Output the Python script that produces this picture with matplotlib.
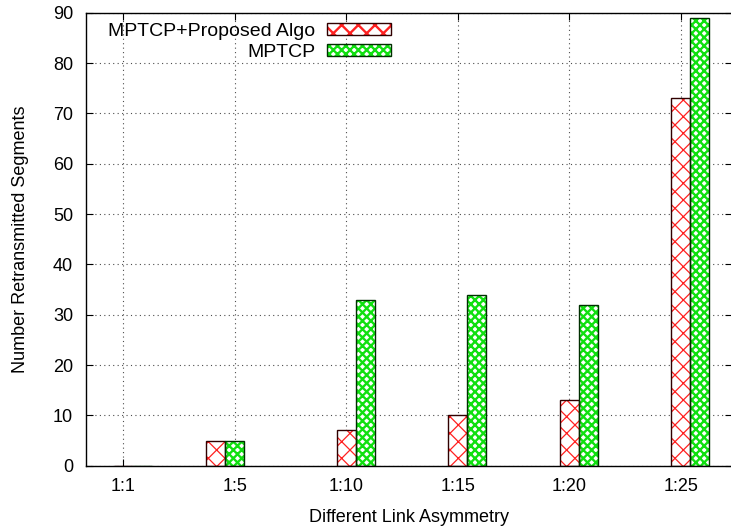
import matplotlib
matplotlib.use("Agg")
import matplotlib.pyplot as plt
from matplotlib.patches import Patch
import numpy as np

plt.rcParams['font.family'] = ['Liberation Sans', 'DejaVu Sans']
plt.rcParams['font.size'] = 13

categories = ['1:1', '1:5', '1:10', '1:15', '1:20', '1:25']
proposed = [0, 5, 7, 10, 13, 73]
mptcp = [0, 5, 33, 34, 32, 89]
labels = ['MPTCP+Proposed Algo', 'MPTCP']

fig = plt.figure(figsize=(7.31, 5.28), dpi=100)
ax = fig.add_axes([85.7 / 731, 1 - 465.7 / 528, (732 - 85.7) / 731, (465.7 - 12.7) / 528])

x = np.arange(len(categories))
w = 0.17
# the 1:5 group sits one bar width further left in the original
shift = np.where(np.array(categories) == '1:5', -w, 0.0)
xr = x - 0.084 + shift
xg = xr + w

plt.rcParams['hatch.linewidth'] = 0.9
ax.bar(xr, proposed, w, align='edge', color='white', edgecolor='#ff2020',
       hatch='xx', linewidth=0, zorder=2)
plt.rcParams['hatch.linewidth'] = 1.7
ax.bar(xg, mptcp, w, align='edge', color='white', edgecolor='#10e010',
       hatch='xxxx', linewidth=0, zorder=2)
ax.bar(xr, proposed, w, align='edge', fill=False, edgecolor='#300000', linewidth=1.0, zorder=3)
ax.bar(xg, mptcp, w, align='edge', fill=False, edgecolor='#003000', linewidth=1.0, zorder=3)

plt.rcParams['hatch.linewidth'] = 0.9
h1 = (Patch(facecolor='white', edgecolor='#ff2020', hatch='xx', linewidth=0),
      Patch(fill=False, edgecolor='#300000', linewidth=1.0))
plt.rcParams['hatch.linewidth'] = 1.7
h2 = (Patch(facecolor='white', edgecolor='#10e010', hatch='xxxx', linewidth=0),
      Patch(fill=False, edgecolor='#003000', linewidth=1.0))
ax.legend([h1, h2], labels, loc='upper right', bbox_to_anchor=(391 / 731, 1 - 23 / 528),
          bbox_transform=fig.transFigure, frameon=False, markerfirst=False,
          handlelength=3.3, handleheight=0.56, handletextpad=0.6,
          labelspacing=0.2, borderpad=0, borderaxespad=0, fontsize=14)

ax.set_xlim(-0.337, 5.46)
ax.set_ylim(0, 90)
ax.set_yticks(range(0, 91, 10))
ax.set_xticks(x)
ax.set_xticklabels(categories)
ax.tick_params(direction='in', length=5, top=True, right=True, pad=9, labelsize=13)
ax.grid(True, linestyle=(0, (1, 3)), color='0.3', linewidth=0.8, zorder=0)
ax.set_axisbelow(True)
for s in ax.spines.values():
    s.set_linewidth(1.0)

ax.set_xlabel('Different Link Asymmetry', fontsize=13, labelpad=10)
ax.set_ylabel('Number Retransmitted Segments', fontsize=13, labelpad=17)

fig.savefig('out.png', dpi=100)
